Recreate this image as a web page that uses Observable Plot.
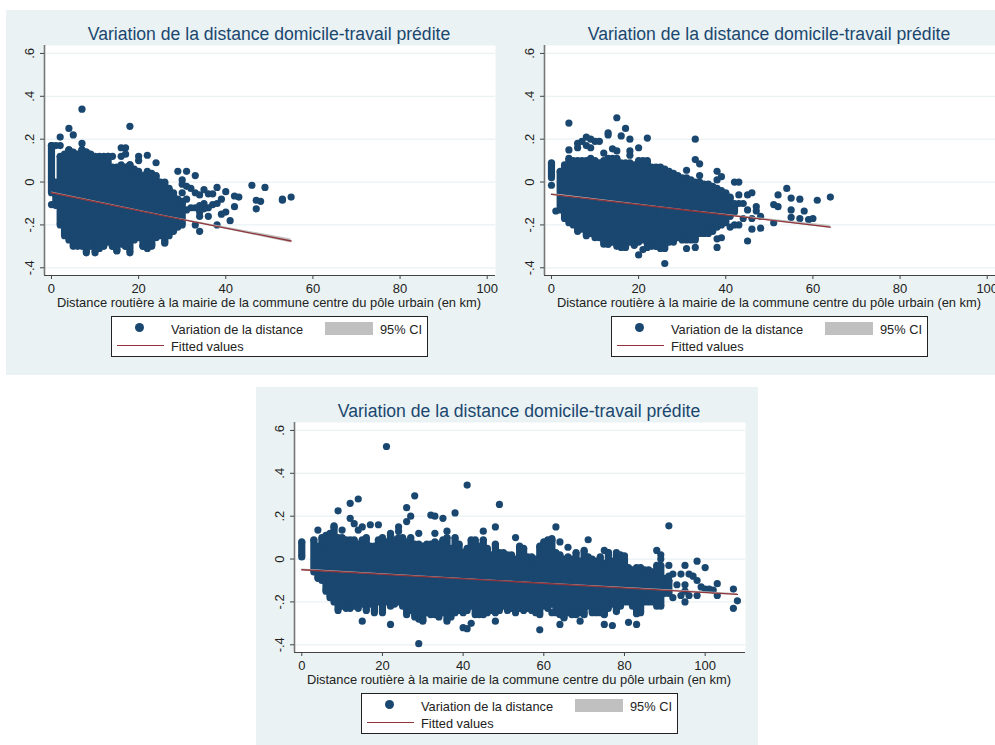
<!DOCTYPE html>
<html><head><meta charset="utf-8">
<script src="https://cdn.jsdelivr.net/npm/d3@7"></script>
<script src="https://cdn.jsdelivr.net/npm/@observablehq/plot@0.6"></script>
<style>
html,body{margin:0;padding:0;background:#fff;overflow:hidden}
#page{position:relative;width:995px;height:745px;overflow:hidden;font-family:"Liberation Sans",Arial,sans-serif}
.panel{position:absolute;background:#eaf2f3}
.panel svg{position:absolute;left:0;top:0;overflow:visible}
.t{position:absolute;white-space:nowrap;line-height:1}
.title{width:526px;text-align:center;top:16px;font-size:17.6px;color:#1a476f}
.xlab{width:526px;text-align:center;top:287px;font-size:12.9px;color:#222}
.legend{position:absolute;top:306px;width:315px;height:39px;border:1.3px solid #222;background:#fff}
.legend .t{font-size:12.8px;color:#222}
.sw{position:absolute}
</style></head><body><div id="page"></div>
<script>
const titleText = "Variation de la distance domicile-travail prédite";
const xLabelText = "Distance routière à la mairie de la commune centre du pôle urbain (en km)";
const legendDots = "Variation de la distance", legendCI = "95% CI", legendFit = "Fitted values";
const yTicks = [-0.4,-0.2,0,0.2,0.4,0.6];
const xTicksA = [0,20,40,60,80,100];

// Panel A: dense core per km (upper / lower edge), then individual visible points
const coreKmA  = [0,1,2,3,4,5,6,7,8,9,10,11,12,13,14,15,16,17,18,19,20,21,22,23,24,25,26,27,28,29,30];
const coreTopA = [.17,.0,.12,.13,.15,.14,.13,.15,.14,.13,.12,.12,.12,.12,.07,.07,.08,.07,.08,.06,.05,.03,.05,.04,.03,.0,.0,-.03,-.05,-.08,-.1];
const coreBotA = [-.05,-.11,-.2,-.25,-.27,-.3,-.3,-.3,-.33,-.3,-.33,-.31,-.3,-.28,-.3,-.32,-.29,-.3,-.33,-.27,-.26,-.3,-.31,-.3,-.26,-.25,-.28,-.25,-.23,-.21,-.2];
const dotKmA  = [0,7,18,4,5,2,7,0,1,2,4,7,8,16,17,16,17,20,20,22,24,18,19,14,13,29,31,33,30,30,31,32,33,34,35,36,37,38,40,39,38,37,36,35,34,33,32,31,30,29,31,30,34,35,42,43,42,40,39,41,38,33,34,34,36,46,49,47,48,47,53,53,55,15,14,17,21,23,26,23,21];
const dotValA = [-.105,.34,.26,.25,.22,.21,.18,.17,.17,.17,.15,.15,.14,.16,.16,.12,.13,.12,.1,.125,.09,.08,.05,.12,.12,.05,.05,.03,.01,-.01,-.02,-.03,-.05,-.06,-.035,-.055,-.055,-.025,-.045,-.08,-.1,-.105,-.12,-.125,-.14,-.12,-.12,-.13,-.09,-.1,-.08,-.05,-.11,-.1,-.065,-.07,-.115,-.14,-.15,-.18,-.2,-.2,-.23,-.16,-.16,-.015,-.025,-.085,-.09,-.125,-.08,-.085,-.07,-.32,-.3,-.3,-.3,-.29,-.285,-.27,-.27];
const fitKmA = [0,27,55], fitA = [-.05,-.163,-.275], ciLowA = [-.054,-.165,-.284], ciHighA = [-.046,-.161,-.266];

// Panel B
const xTicksB = [0,20,40,60,80,100];
const coreKmB  = [0,2,3,4,5,6,7,8,9,10,11,12,13,14,15,16,17,18,19,20,21,22,23,24,25,26,27,28,29,30,31,32,33,34,35,36,37,38,39,40,41,42];
const coreTopB = [.09,.05,.08,.11,.1,.1,.1,.1,.11,.1,.09,.1,.11,.11,.11,.09,.09,.09,.08,.1,.1,.1,.07,.07,.07,.06,.05,.04,.03,.02,.02,.01,.0,.0,-.01,-.01,-.02,-.03,-.04,-.05,-.07,-.1];
const coreBotB = [.02,-.13,-.17,-.19,-.2,-.23,-.22,-.25,-.24,-.26,-.26,-.28,-.29,-.28,-.3,-.3,-.3,-.28,-.29,-.28,-.27,-.29,-.3,-.3,-.31,-.3,-.28,-.28,-.26,-.27,-.27,-.27,-.27,-.24,-.24,-.24,-.23,-.21,-.2,-.19,-.16,-.14];
const dotKmB  = [0,1,15,4,17,13,13,16,18,22,8,9,10,7,6,6,8,9,11,33,4,14,15,18,18,20,12,33,34,31,38,39,38,34,42,43,43,45,46,44,43,45,47,47,48,46,44,43,42,41,39,38,38,46,48,45,33,31,26,26,24,22,20,21,17,16,13,12,19,51,52,51,52,54,55,57,55,58,55,57,59,60,61,64];
const dotValB = [-.015,-.135,.3,.275,.25,.22,.23,.215,.2,.205,.21,.2,.19,.19,.18,.16,.17,.16,.19,.2,.15,.155,.145,.145,.125,.16,.135,.105,.085,.055,.05,.025,.01,.03,0,0,-.06,-.06,-.05,-.1,-.1,-.13,-.115,-.135,-.16,-.17,-.17,-.2,-.2,-.21,-.26,-.265,-.305,-.22,-.215,-.275,-.305,-.31,-.38,-.31,-.3,-.305,-.34,-.315,-.305,-.305,-.29,-.29,-.295,-.105,-.115,-.19,-.06,-.03,-.075,-.08,-.13,-.135,-.165,-.17,-.175,-.17,-.085,-.07];
const fitKmB = [0,32,64], fitB = [-.058,-.134,-.21], ciLowB = [-.062,-.135,-.217], ciHighB = [-.054,-.133,-.203];

// Panel C
const xTicksC = [0,20,40,60,80,100];
const coreKmC  = [0,3,4,5,6,7,8,9,10,11,12,13,14,15,16,17,18,19,20,21,22,23,24,25,26,27,28,29,30,31,32,33,34,35,36,37,38,39,40,41,42,43,44,45,46,47,48,49,50,51,52,53,54,55,56,57,58,59,60,61,62,63,64,65,66,67,68,69,70,71,72,73,74,75,76,77,78,79,80,81,82,83,84,85,86,87,88,89,90,91];
const coreTopC = [.08,.09,.06,.1,.11,.12,.15,.1,.1,.09,.09,.09,.07,.09,.1,.06,.06,.09,.1,.08,.11,.09,.1,.1,.08,.1,.07,.07,.06,.07,.07,.08,.07,.09,.1,.05,.1,.07,.03,.05,.09,.09,.06,.09,.05,.02,.07,.03,.03,.02,.02,.0,.06,.05,.01,.01,.0,.06,.08,.09,.09,.03,.02,.0,.01,.0,.03,-.01,.04,.01,.0,-.01,.01,-.02,.03,-.01,.02,.015,.0,-.04,-.05,-.04,-.04,-.05,-.05,-.06,-.03,-.03,-.09,-.1];
const coreBotC = [.01,-.06,-.09,-.1,-.15,-.18,-.2,-.24,-.22,-.23,-.23,-.22,-.23,-.21,-.24,-.21,-.25,-.2,-.25,-.2,-.22,-.21,-.2,-.22,-.26,-.24,-.27,-.28,-.29,-.25,-.26,-.26,-.27,-.25,-.29,-.27,-.25,-.24,-.25,-.24,-.22,-.26,-.26,-.26,-.25,-.24,-.25,-.24,-.22,-.24,-.23,-.25,-.23,-.24,-.23,-.24,-.25,-.26,-.22,-.23,-.21,-.25,-.26,-.27,-.25,-.26,-.26,-.25,-.26,-.22,-.25,-.25,-.25,-.26,-.23,-.21,-.24,-.22,-.2,-.2,-.22,-.25,-.25,-.2,-.2,-.2,-.22,-.22,-.16,-.16];
const dotKmC  = [21,41,28,14,12,49,26,9,38,27,32,33,35,12,26,13,91,63,48,8,15,17,19,4,10,14,24,24,22,29,33,36,45,53,71,62,64,66,75,76,78,79,80,88,89,89,91,95,98,100,92,94,96,97,98,99,100,101,103,102,107,103,108,107,95,94,96,98,92,93,91,95,95,15,22,29,30,40,41,42,48,59,62,64,65,69,75,77,81,83,83,78,75];
const dotValC = [.525,.345,.295,.28,.26,.255,.24,.225,.215,.2,.205,.2,.19,.19,.175,.165,.155,.15,.15,.155,.15,.16,.16,.135,.135,.135,.15,.13,.12,.12,.12,.13,.13,.1,.09,.095,.08,.055,.04,.03,.03,.02,.015,.04,.02,0,-.03,-.03,-.01,-.04,-.07,-.07,-.07,-.08,-.1,-.13,-.14,-.14,-.115,-.145,-.14,-.17,-.195,-.23,-.2,-.17,-.17,-.17,-.18,-.12,-.08,-.12,-.15,-.29,-.305,-.395,-.285,-.32,-.325,-.3,-.29,-.33,-.25,-.305,-.275,-.29,-.305,-.31,-.295,-.305,-.255,-.245,-.255];
const fitKmC = [0,54,108], fitC = [-.05,-.107,-.165], ciLowC = [-.053,-.108,-.169], ciHighC = [-.047,-.106,-.161];

const navy="#1a476f", maroon="#90353b", bg="#eaf2f3", ciGray="#c0c0c0";
const tickFmt = v => v===0 ? "0" : String(v).replace("0.",".");

function zip(xs, ys){ return xs.map((x,i)=>({x, y:ys[i]})); }

function panel({left,top,w,h,inset,svgW,mr,xDomain,xTicks,coreKm,coreTop,coreBot,dotKm,dotVal,fitKm,fit,ciLow,ciHigh}){
  const div=document.createElement("div"); div.className="panel";
  Object.assign(div.style,{left:left+"px",top:top+"px",width:w+"px",height:h+"px",overflow:"hidden"});
  const r=3.6;
  const core=coreKm.map((k,i)=>({k,t:coreTop[i],b:coreBot[i]}));
  const plot=Plot.plot({
    width:svgW,height:295,marginLeft:38+inset,marginRight:mr,marginTop:35,marginBottom:30,
    style:{background:"transparent",fontFamily:'"Liberation Sans",Arial,sans-serif',color:"#222"},
    x:{domain:xDomain,label:null},
    y:{domain:[-0.436,0.637],label:null},
    marks:[
      Plot.frame({fill:"white",stroke:null}),
      Plot.ruleY(yTicks,{stroke:bg,strokeWidth:1.2}),
      Plot.ruleX([xDomain[0]],{stroke:"#777",strokeWidth:1.6}),
      Plot.ruleY([-0.436],{stroke:"#444",strokeWidth:1}),
      Plot.axisX({ticks:xTicks,tickSize:4,tickPadding:4,tickFormat:d=>d,stroke:"#444",fontSize:13,label:null}),
      Plot.axisY({ticks:yTicks,tickSize:4,tickPadding:7,tickRotate:-90,tickFormat:tickFmt,stroke:"#444",fontSize:13,label:null,textAnchor:"middle"}),
      Plot.ruleX(core,{x:"k",y1:"t",y2:"b",stroke:navy,strokeWidth:2*r,strokeLinecap:"butt"}),
      Plot.dot(zip(coreKm,coreTop),{x:"x",y:"y",r,fill:navy}),
      Plot.dot(zip(coreKm,coreBot),{x:"x",y:"y",r,fill:navy}),
      Plot.dot(zip(dotKm,dotVal),{x:"x",y:"y",r,fill:navy}),
      Plot.areaY(fitKm.map((k,i)=>({k,a:ciLow[i],b:ciHigh[i]})),{x:"k",y1:"a",y2:"b",fill:ciGray}),
      Plot.line(zip(fitKm,fit),{x:"x",y:"y",stroke:maroon,strokeWidth:1.3})
    ]
  });
  div.appendChild(plot);
  const add=(cls,txt,css)=>{const e=document.createElement("div");e.className=cls;if(txt)e.textContent=txt;if(css)e.style.cssText=css;return e;};
  div.appendChild(add("t title",titleText,"left:"+inset+"px"));
  div.appendChild(add("t xlab",xLabelText,"left:"+inset+"px"));
  const lg=add("legend","","left:"+(105+inset)+"px");
  lg.appendChild(add("sw","","left:23px;top:6px;width:9px;height:9px;border-radius:50%;background:"+navy));
  lg.appendChild(add("t",legendDots,"left:59px;top:7px"));
  lg.appendChild(add("sw","","left:213px;top:5px;width:48px;height:13px;background:"+ciGray));
  lg.appendChild(add("t",legendCI,"left:268px;top:7px"));
  lg.appendChild(add("sw","","left:5px;top:28px;width:47px;height:1.2px;background:"+maroon));
  lg.appendChild(add("t",legendFit,"left:59px;top:24px"));
  div.appendChild(lg);
  document.getElementById("page").appendChild(div);
}

panel({left:6,top:10,w:494,h:365,inset:0,svgW:494,mr:5,xDomain:[-1.6,101.9],xTicks:xTicksA,coreKm:coreKmA,coreTop:coreTopA,coreBot:coreBotA,dotKm:dotKmA,dotVal:dotValA,fitKm:fitKmA,fit:fitA,ciLow:ciLowA,ciHigh:ciHighA});
panel({left:500,top:10,w:495,h:365,inset:6,svgW:495,mr:0,xDomain:[-1.6,101.9],xTicks:xTicksB,coreKm:coreKmB,coreTop:coreTopB,coreBot:coreBotB,dotKm:dotKmB,dotVal:dotValB,fitKm:fitKmB,fit:fitB,ciLow:ciLowB,ciHigh:ciHighB});
panel({left:256,top:387,w:502,h:358,inset:0,svgW:502,mr:13,xDomain:[-1.8,110],xTicks:xTicksC,coreKm:coreKmC,coreTop:coreTopC,coreBot:coreBotC,dotKm:dotKmC,dotVal:dotValC,fitKm:fitKmC,fit:fitC,ciLow:ciLowC,ciHigh:ciHighC});
</script></body></html>
